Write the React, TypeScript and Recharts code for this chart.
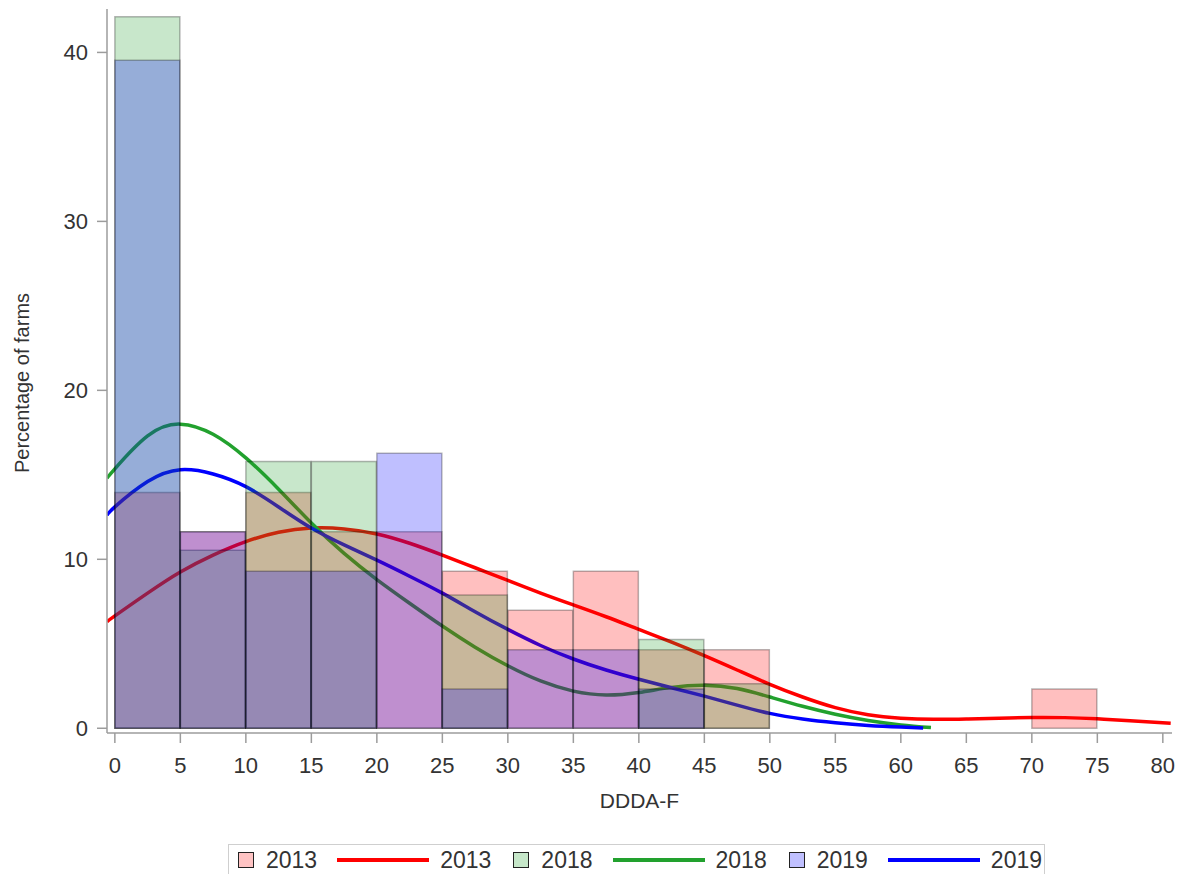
import { ComposedChart, Bar, Line, XAxis, YAxis } from 'recharts';

// histogram bins (width 5), value = percentage of farms
const binCenters = [2.5, 7.5, 12.5, 17.5, 22.5, 27.5, 32.5, 37.5, 42.5, 47.5, 52.5, 57.5, 62.5, 67.5, 72.5, 77.5];
const pct2013 = [13.95, 11.63, 13.95, 11.63, 11.63, 9.3, 6.98, 9.3, 4.65, 4.65, 0, 0, 0, 0, 2.33, 0];
const pct2018 = [42.11, 10.53, 15.79, 15.79, 0, 7.89, 0, 0, 5.26, 2.63, 0, 0, 0, 0, 0, 0];
const pct2019 = [39.53, 11.63, 9.3, 9.3, 16.28, 2.33, 4.65, 4.65, 2.33, 0, 0, 0, 0, 0, 0, 0];

// kernel density curves
const kdeX2013 = [-0.6, 0, 2.5, 5, 7.5, 10, 12.5, 15, 17.5, 20, 22.5, 25, 27.5, 30, 32.5, 35, 37.5, 40, 42.5, 45, 47.5, 50, 52.5, 55, 57.5, 60, 62.5, 65, 67.5, 70, 72.5, 75, 77.5, 80.6];
const kde2013 = [6.3, 6.65, 8.0, 9.25, 10.25, 11.05, 11.6, 11.85, 11.8, 11.5, 10.95, 10.25, 9.5, 8.75, 8.0, 7.3, 6.6, 5.85, 5.1, 4.3, 3.45, 2.6, 1.85, 1.22, 0.8, 0.6, 0.53, 0.55, 0.6, 0.64, 0.63, 0.56, 0.45, 0.3];
const kdeX2018 = [-0.6, 0, 2.5, 5, 7.5, 10, 12.5, 15, 17.5, 20, 22.5, 25, 27.5, 30, 32.5, 35, 37.5, 40, 42.5, 45, 47.5, 50, 52.5, 55, 57.5, 60, 62.3];
const kde2018 = [14.8, 15.35, 17.3, 18.0, 17.4, 16.0, 14.15, 12.15, 10.35, 8.8, 7.4, 6.05, 4.8, 3.7, 2.8, 2.2, 1.97, 2.12, 2.42, 2.55, 2.35, 1.85, 1.3, 0.83, 0.46, 0.2, 0.04];
const kdeX2019 = [-0.6, 0, 2.5, 5, 7.5, 10, 12.5, 15, 17.5, 20, 22.5, 25, 27.5, 30, 32.5, 35, 37.5, 40, 42.5, 45, 47.5, 50, 52.5, 55, 57.5, 60, 61.7];
const kde2019 = [12.6, 13.1, 14.6, 15.3, 15.05, 14.3, 13.1, 11.85, 10.85, 9.95, 9.0, 8.0, 6.9, 5.85, 4.9, 4.1, 3.45, 2.9, 2.4, 1.9, 1.37, 0.88, 0.55, 0.33, 0.17, 0.07, 0.02];

const xTicks = [0, 5, 10, 15, 20, 25, 30, 35, 40, 45, 50, 55, 60, 65, 70, 75, 80];
const yTicks = [0, 10, 20, 30, 40];
const xDomain: [number, number] = [-0.6, 80.7];
const yDomain: [number, number] = [-0.28, 42.57];

const series = [
  { year: '2013', key: 'p2013', color: '#ff0000', swatch: '#ffc4c4' },
  { year: '2018', key: 'p2018', color: '#22a12e', swatch: '#c6e7c9' },
  { year: '2019', key: 'p2019', color: '#0000ff', swatch: '#c0c0ff' },
];

const histData = binCenters.map((x, i) => ({
  x,
  p2013: pct2013[i],
  p2018: pct2018[i],
  p2019: pct2019[i],
}));

const toCurve = (xs: number[], ys: number[]) => xs.map((x, i) => ({ x, y: ys[i] }));
const curves = [toCurve(kdeX2013, kde2013), toCurve(kdeX2018, kde2018), toCurve(kdeX2019, kde2019)];

const textColor = '#333333';
const axisColor = '#9c9c9c';

const ChartLegend = () => (
  <div
    style={{
      position: 'absolute',
      left: 228,
      top: 844,
      width: 817,
      height: 40,
      boxSizing: 'border-box',
      border: '1.5px solid #cfcfcf',
      display: 'flex',
      alignItems: 'center',
      paddingLeft: 9,
      paddingBottom: 8,
      fontSize: 23,
      color: textColor,
    }}
  >
    {series.map((s) => (
      <div key={s.year} style={{ display: 'flex', alignItems: 'center' }}>
        <span
          style={{
            width: 14,
            height: 14,
            border: '1.5px solid #222',
            background: s.swatch,
            marginRight: 12,
          }}
        />
        <span style={{ marginRight: 20 }}>{s.year}</span>
        <span style={{ width: 92, height: 4, background: s.color, marginRight: 11 }} />
        <span style={{ marginRight: 22 }}>{s.year}</span>
      </div>
    ))}
  </div>
);

export default function App() {
  return (
    <div
      style={{
        position: 'absolute',
        left: 0,
        top: 0,
        width: 1185,
        height: 874,
        overflow: 'hidden',
        background: '#fff',
        fontFamily: '"Liberation Sans", Arial, sans-serif',
      }}
    >
      <ComposedChart
        width={1185}
        height={874}
        data={histData}
        margin={{ top: 9, right: 13, bottom: 0, left: 0 }}
        barCategoryGap={0}
        barGap={0}
      >
        <XAxis
          xAxisId="main"
          type="number"
          dataKey="x"
          domain={xDomain}
          ticks={xTicks}
          allowDataOverflow
          height={141}
          tickSize={10}
          tickMargin={14}
          stroke={axisColor}
          strokeWidth={1.5}
          tick={{ fill: textColor, fontSize: 22 }}
          label={{ value: 'DDDA-F', position: 'insideBottom', offset: 66, fill: textColor, fontSize: 21 }}
        />
        {series.map((s) => (
          <XAxis
            key={s.key}
            xAxisId={s.key}
            type="number"
            dataKey="x"
            domain={xDomain}
            allowDataOverflow
            hide
          />
        ))}
        <YAxis
          type="number"
          domain={yDomain}
          ticks={yTicks}
          allowDataOverflow
          width={107}
          tickSize={10}
          tickMargin={9}
          stroke={axisColor}
          strokeWidth={1.5}
          tick={{ fill: textColor, fontSize: 22 }}
          label={{
            value: 'Percentage of farms',
            angle: -90,
            position: 'center',
            dx: -32,
            dy: 12,
            fill: textColor,
            fontSize: 20,
          }}
        />
        {series.map((s, i) => (
          <Line
            key={'kde' + s.year}
            xAxisId="main"
            data={curves[i]}
            dataKey="y"
            type="natural"
            stroke={s.color}
            strokeWidth={3.5}
            dot={false}
            activeDot={false}
            zIndex={250}
            isAnimationActive={false}
          />
        ))}
        {series.map((s) => (
          <Bar
            key={'bar' + s.year}
            xAxisId={s.key}
            dataKey={s.key}
            fill={s.color}
            fillOpacity={0.25}
            stroke="#000"
            strokeOpacity={0.28}
            strokeWidth={1.5}
            isAnimationActive={false}
          />
        ))}
      </ComposedChart>
      <ChartLegend />
    </div>
  );
}
